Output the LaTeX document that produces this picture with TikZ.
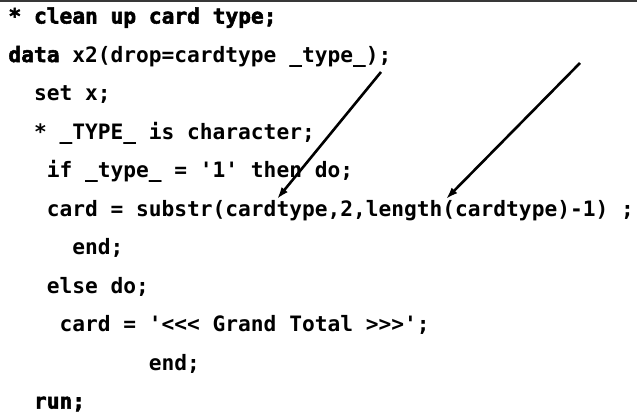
\documentclass[tikz,border=0pt]{standalone}
\usepackage{fontspec}
\setmonofont{DejaVu Sans Mono}[WordSpace={1,0,0}]
\newfontfamily\heavyfont{DejaVu Sans Mono}[BoldFeatures={FakeBold=2.4},WordSpace={1,0,0}]
\usetikzlibrary{arrows.meta}
\begin{document}
\begin{tikzpicture}[x=1pt,y=-1pt,
  codeline/.style={anchor=base west,inner sep=0pt,outer sep=0pt,text=black,
    font=\fontsize{21.2pt}{24pt}\selectfont\ttfamily\bfseries},
  heavy/.style={codeline,font=\fontsize{21.2pt}{24pt}\selectfont\heavyfont\bfseries},
  pointer/.style={draw=black,line width=2.6pt,-{Latex[length=12pt,width=8pt]}}]
\useasboundingbox (0,0) rectangle (637,413);
\fill[white] (0,0) rectangle (637,413);
\draw[draw=black!78,line width=2pt] (0,1) -- (637,1);
\def\px{8.5}\def\pitch{12.76}
\node[heavy] (l1) at ({\px},23.5) {* clean up card type;};
\node[heavy] (l2a) at ({\px},62) {data};
\node[codeline] (l2b) at ({\px+5*\pitch},62) {x2(drop=cardtype \_type\_);};
\node[codeline] (l3) at ({\px+2*\pitch},100.5) {set x;};
\node[codeline] (l4) at ({\px+2*\pitch},139) {* \_TYPE\_ is character;};
\node[codeline] (l5) at ({\px+3*\pitch},177.5) {if \_type\_ = '1' then do;};
\node[codeline] (l6) at ({\px+3*\pitch},216) {card = substr(cardtype,2,length(cardtype)-1) ;};
\node[codeline] (l7) at ({\px+5*\pitch},254.5) {end;};
\node[codeline] (l8) at ({\px+3*\pitch},293) {else do;};
\node[codeline] (l9) at ({\px+4*\pitch},331.5) {card = '<<< Grand Total >>>';};
\node[codeline] (l10) at ({\px+11*\pitch},370) {end;};
\node[heavy] (l11) at ({\px+2*\pitch},408.5) {run;};
\coordinate (a1s) at (381,72);
\coordinate (a1e) at (277,199);
\coordinate (a2s) at (580,63);
\coordinate (a2e) at (446,199);
\draw[pointer] (a1s) -- (a1e);
\draw[pointer] (a2s) -- (a2e);
\end{tikzpicture}
\end{document}
